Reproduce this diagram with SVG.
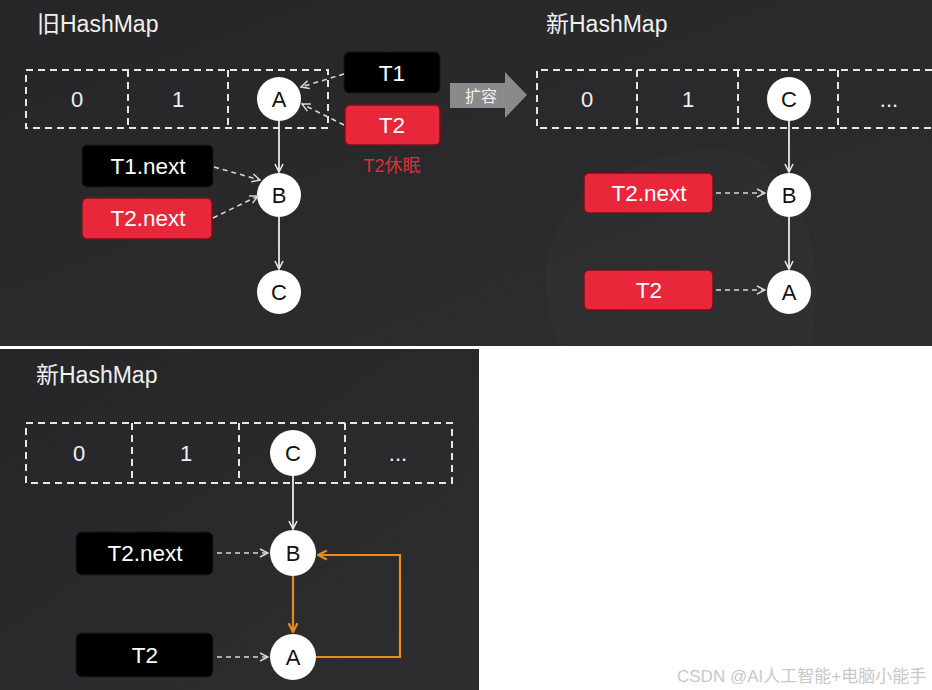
<svg xmlns="http://www.w3.org/2000/svg" width="932" height="690" viewBox="0 0 932 690">
<style>
text{font-family:"Liberation Sans","Noto Sans CJK SC",Arial,sans-serif;}
.title{fill:#f0f0f0;font-size:23px;}
.cell{fill:none;stroke:#e6e6e6;stroke-width:2;stroke-dasharray:7,5;}
.idx{fill:#f0f0f0;font-size:22px;text-anchor:middle;}
.node circle{fill:#ffffff;}
.node text{fill:#111;font-size:22px;text-anchor:middle;}
.blk{fill:#000;stroke:#1a1a1a;}
.red{fill:#e8283a;stroke:#7a1018;stroke-width:1.5;}
.lbl{fill:#fff;font-size:22.5px;text-anchor:middle;}
.solid{stroke:#e8e8e8;stroke-width:1.8;fill:none;}
.dash{stroke:#d8d8d8;stroke-width:1.6;fill:none;stroke-dasharray:5,4;}
.orange{stroke:#e88a24;stroke-width:2.2;fill:none;}
</style>
<defs>
<marker id="ah" viewBox="0 0 10 10" refX="9" refY="5" markerWidth="10" markerHeight="10" markerUnits="userSpaceOnUse" orient="auto">
<path d="M1,1 L9,5 L1,9" fill="none" stroke="#e8e8e8" stroke-width="1.6"/>
</marker>
<marker id="ahd" viewBox="0 0 10 10" refX="9" refY="5" markerWidth="10" markerHeight="10" markerUnits="userSpaceOnUse" orient="auto">
<path d="M1,1 L9,5 L1,9" fill="none" stroke="#d8d8d8" stroke-width="1.5"/>
</marker>
<marker id="aho" viewBox="0 0 10 10" refX="9" refY="5" markerWidth="11" markerHeight="11" markerUnits="userSpaceOnUse" orient="auto">
<path d="M1,1 L9,5 L1,9" fill="none" stroke="#e88a24" stroke-width="2"/>
</marker>
<linearGradient id="bg" x1="0" y1="0" x2="1" y2="1">
<stop offset="0" stop-color="#262628"/>
<stop offset="1" stop-color="#2e2e30"/>
</linearGradient>
</defs>

<rect x="0" y="0" width="932" height="690" fill="#ffffff"/>
<rect x="0" y="0" width="932" height="346" fill="url(#bg)"/>
<rect x="0" y="349" width="479" height="341" fill="url(#bg)"/>
<path d="M560,346 C520,250 560,170 700,150 C800,140 830,250 810,346 Z" fill="#ffffff" opacity="0.015"/>

<!-- Panel 1: old HashMap -->
<g id="panel1-title"><text class="title" x="37" y="32">旧HashMap</text></g>
<g id="old-array">
<rect class="cell" x="26" y="70" width="302" height="58"/>
<line class="cell" x1="128" y1="70" x2="128" y2="128"/>
<line class="cell" x1="228" y1="70" x2="228" y2="128"/>
<text class="idx" x="77" y="107">0</text>
<text class="idx" x="178" y="107">1</text>
</g>
<g id="old-A" class="node"><circle cx="279" cy="99" r="22"/><text x="279" y="107">A</text></g>
<g id="old-B" class="node"><circle cx="279" cy="195" r="22"/><text x="279" y="203">B</text></g>
<g id="old-C" class="node"><circle cx="279" cy="292" r="22"/><text x="279" y="300">C</text></g>
<g id="old-T1"><rect class="blk" x="344" y="52" width="96" height="41" rx="5"/><text class="lbl" x="392" y="81">T1</text></g>
<g id="old-T2"><rect class="red" x="345" y="105" width="95" height="40" rx="5"/><text class="lbl" x="392" y="133">T2</text></g>
<g id="old-T2sleep"><text x="392" y="172" fill="#d9303e" font-size="18" text-anchor="middle">T2休眠</text></g>
<g id="old-T1next"><rect class="blk" x="82" y="145" width="131" height="42" rx="5"/><text class="lbl" x="148" y="174">T1.next</text></g>
<g id="old-T2next"><rect class="red" x="82" y="198" width="130" height="41" rx="5"/><text class="lbl" x="148" y="226">T2.next</text></g>

<!-- resize arrow -->
<g id="resize-arrow">
<path d="M450,83 L505,83 L505,72 L527,95 L505,118 L505,108 L450,108 Z" fill="#8a8a8a"/>
<text x="481" y="102" fill="#f2f2f2" font-size="16" text-anchor="middle">扩容</text>
</g>

<!-- Panel 2: new HashMap -->
<g id="panel2-title"><text class="title" x="546" y="32">新HashMap</text></g>
<g id="new-array">
<path class="cell" d="M932,70 L537,70 L537,128 L932,128"/>
<line class="cell" x1="637" y1="70" x2="637" y2="128"/>
<line class="cell" x1="738" y1="70" x2="738" y2="128"/>
<line class="cell" x1="838" y1="70" x2="838" y2="128"/>
<text class="idx" x="587" y="107">0</text>
<text class="idx" x="688" y="107">1</text>
<text class="idx" x="889" y="107">...</text>
</g>
<g id="new-C" class="node"><circle cx="789" cy="99" r="22"/><text x="789" y="107">C</text></g>
<g id="new-B" class="node"><circle cx="789" cy="195" r="22"/><text x="789" y="203">B</text></g>
<g id="new-A" class="node"><circle cx="789" cy="292" r="22"/><text x="789" y="300">A</text></g>
<g id="new-T2next"><rect class="red" x="584" y="173" width="129" height="40" rx="5"/><text class="lbl" x="649" y="201">T2.next</text></g>
<g id="new-T2"><rect class="red" x="584" y="270" width="129" height="40" rx="5"/><text class="lbl" x="649" y="298">T2</text></g>

<!-- Panel 3: new HashMap with loop -->
<g id="panel3-title"><text class="title" x="36" y="383">新HashMap</text></g>
<g id="loop-array">
<rect class="cell" x="26" y="423" width="426" height="60"/>
<line class="cell" x1="132" y1="423" x2="132" y2="483"/>
<line class="cell" x1="239" y1="423" x2="239" y2="483"/>
<line class="cell" x1="345" y1="423" x2="345" y2="483"/>
<text class="idx" x="79" y="461">0</text>
<text class="idx" x="186" y="461">1</text>
<text class="idx" x="398" y="461">...</text>
</g>
<g id="loop-C" class="node"><circle cx="293" cy="453" r="23"/><text x="293" y="461">C</text></g>
<g id="loop-B" class="node"><circle cx="293" cy="553" r="23"/><text x="293" y="561">B</text></g>
<g id="loop-A" class="node"><circle cx="293" cy="657" r="23"/><text x="293" y="665">A</text></g>
<g id="loop-T2next"><rect class="blk" x="76" y="532" width="137" height="43" rx="6"/><text class="lbl" x="145" y="561">T2.next</text></g>
<g id="loop-T2"><rect class="blk" x="76" y="633" width="137" height="44" rx="6"/><text class="lbl" x="145" y="663">T2</text></g>

<!-- connectors -->
<g id="connectors">
<line class="dash" x1="344" y1="74" x2="301" y2="87" marker-end="url(#ahd)"/>
<line class="dash" x1="344" y1="125" x2="302" y2="104" marker-end="url(#ahd)"/>
<line class="solid" x1="279" y1="121" x2="279" y2="172" marker-end="url(#ah)"/>
<line class="solid" x1="279" y1="217" x2="279" y2="269" marker-end="url(#ah)"/>
<line class="dash" x1="214" y1="167" x2="260" y2="180" marker-end="url(#ahd)"/>
<line class="dash" x1="213" y1="218" x2="258" y2="196" marker-end="url(#ahd)"/>

<line class="solid" x1="789" y1="121" x2="789" y2="172" marker-end="url(#ah)"/>
<line class="solid" x1="789" y1="217" x2="789" y2="269" marker-end="url(#ah)"/>
<line class="dash" x1="716" y1="193" x2="765" y2="193" marker-end="url(#ahd)"/>
<line class="dash" x1="716" y1="290" x2="765" y2="290" marker-end="url(#ahd)"/>

<line class="solid" x1="293" y1="476" x2="293" y2="529" marker-end="url(#ah)"/>
<line class="dash" x1="217" y1="553" x2="268" y2="553" marker-end="url(#ahd)"/>
<line class="dash" x1="217" y1="657" x2="268" y2="657" marker-end="url(#ahd)"/>
<line class="orange" x1="293" y1="576" x2="293" y2="632" marker-end="url(#aho)"/>
<path class="orange" d="M316,657 L400,657 L400,555 L318,555" marker-end="url(#aho)"/>
</g>

<g id="watermark"><text x="677" y="682" fill="#c8c8c8" font-size="17">CSDN @AI人工智能+电脑小能手</text></g>
</svg>
